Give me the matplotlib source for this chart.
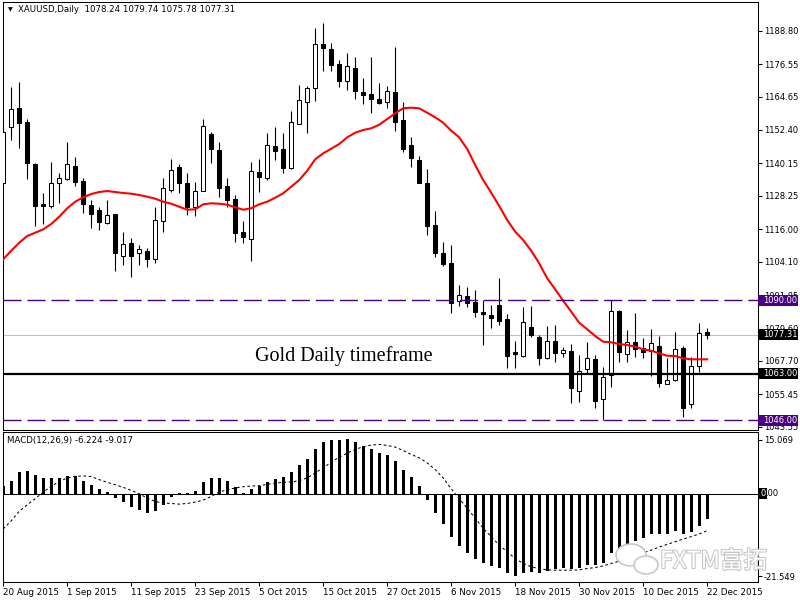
import numpy as np
import pandas as pd
import matplotlib
matplotlib.use('Agg')
import matplotlib.pyplot as plt
import matplotlib.patheffects as pe
from matplotlib.patches import Rectangle, Ellipse
from matplotlib.transforms import blended_transform_factory

plt.rcParams['font.family'] = ['DejaVu Sans', 'Noto Sans CJK SC']

# XAUUSD daily candles, 20 Aug 2015 .. 22 Dec 2015
opens = [
    1132.84, 1153.38, 1160.35, 1155.21, 1139.92, 1125.14, 1124.63, 1133.06, 1134.31, 1139.19,
    1133.69, 1124.89, 1123.05, 1118.18, 1121.48, 1106.30, 1110.84, 1107.17, 1108.02, 1104.97,
    1119.02, 1130.28, 1138.71, 1132.95, 1124.04, 1130.13, 1150.81, 1145.05, 1131.85, 1126.98,
    1115.10, 1112.53, 1136.88, 1134.68, 1146.52, 1145.42, 1138.34, 1154.70, 1162.77, 1167.90,
    1183.93, 1181.98, 1176.48, 1170.47, 1175.12, 1166.32, 1165.48, 1163.76, 1162.77, 1166.32,
    1156.06, 1146.89, 1141.39, 1132.95, 1117.55, 1107.40, 1103.51, 1089.68, 1091.52, 1089.43,
    1085.76, 1084.55, 1088.22, 1083.19, 1070.98, 1069.63, 1080.15, 1076.59, 1068.67, 1075.02,
    1070.50, 1071.35, 1056.79, 1064.64, 1068.41, 1053.64, 1062.44, 1085.91, 1070.14, 1074.54,
    1072.34, 1071.35, 1073.18, 1059.36, 1060.60, 1072.45, 1051.80, 1065.85, 1078.24]
highs = [
    1153.86, 1168.05, 1170.10, 1156.42, 1140.40, 1129.40, 1140.54, 1136.51, 1147.88, 1142.60,
    1134.68, 1126.72, 1124.26, 1126.72, 1121.59, 1114.88, 1112.68, 1110.22, 1109.01, 1124.04,
    1134.68, 1141.75, 1139.92, 1136.51, 1133.43, 1156.42, 1151.77, 1148.10, 1134.90, 1128.55,
    1119.13, 1140.76, 1141.64, 1151.18, 1153.60, 1151.40, 1159.36, 1168.89, 1168.52, 1189.68,
    1191.52, 1184.18, 1178.06, 1180.51, 1179.05, 1171.35, 1179.05, 1169.51, 1168.52, 1182.71,
    1162.55, 1149.71, 1142.85, 1137.98, 1122.69, 1111.21, 1110.22, 1095.55, 1094.71, 1093.72,
    1090.05, 1088.22, 1098.23, 1084.92, 1075.13, 1087.37, 1087.85, 1077.22, 1080.63, 1080.88,
    1072.71, 1073.92, 1069.88, 1074.54, 1069.88, 1065.59, 1089.90, 1086.38, 1079.05, 1085.39,
    1076.23, 1079.42, 1076.96, 1068.89, 1078.21, 1073.18, 1069.26, 1081.51, 1079.74]
lows = [
    1131.85, 1148.72, 1145.68, 1134.31, 1117.30, 1117.92, 1123.68, 1125.51, 1134.05, 1131.85,
    1121.84, 1116.56, 1115.72, 1117.92, 1100.80, 1102.88, 1098.59, 1102.88, 1102.26, 1103.73,
    1115.10, 1129.76, 1129.40, 1121.22, 1120.85, 1130.02, 1140.40, 1127.71, 1124.26, 1111.43,
    1110.84, 1104.46, 1129.76, 1134.20, 1141.39, 1136.51, 1138.10, 1154.48, 1151.40, 1163.13,
    1174.13, 1174.13, 1168.27, 1167.06, 1163.65, 1161.92, 1158.73, 1161.81, 1160.57, 1152.13,
    1144.43, 1138.93, 1132.84, 1113.89, 1105.93, 1102.52, 1085.17, 1087.85, 1087.37, 1083.93,
    1073.55, 1079.67, 1080.88, 1065.22, 1065.22, 1069.26, 1076.59, 1066.21, 1068.53, 1067.43,
    1069.26, 1052.39, 1052.76, 1063.39, 1050.56, 1046.05, 1058.04, 1067.43, 1067.43, 1069.04,
    1068.67, 1062.29, 1058.26, 1059.25, 1060.46, 1047.26, 1050.56, 1063.76, 1075.78]
closes = [
    1151.77, 1159.98, 1154.85, 1140.40, 1124.63, 1124.63, 1132.84, 1134.68, 1139.81, 1133.43,
    1125.14, 1121.48, 1118.76, 1121.22, 1107.40, 1110.48, 1106.30, 1108.64, 1104.97, 1119.39,
    1131.01, 1137.61, 1133.06, 1124.26, 1129.91, 1153.75, 1145.42, 1131.23, 1126.72, 1114.51,
    1113.26, 1137.24, 1135.26, 1146.78, 1144.80, 1138.56, 1155.21, 1163.39, 1167.68, 1183.82,
    1182.57, 1176.22, 1170.47, 1175.86, 1166.80, 1165.33, 1163.87, 1162.40, 1166.69, 1155.43,
    1145.42, 1142.01, 1133.06, 1117.19, 1107.40, 1103.25, 1089.06, 1091.77, 1089.06, 1085.76,
    1084.81, 1083.34, 1082.46, 1069.63, 1070.14, 1081.87, 1077.33, 1068.67, 1075.02, 1070.72,
    1071.71, 1057.89, 1064.12, 1068.89, 1053.12, 1061.70, 1085.91, 1071.09, 1074.54, 1071.97,
    1071.09, 1074.17, 1059.72, 1060.60, 1072.08, 1050.56, 1065.85, 1078.10, 1077.31]

# red moving average as drawn on the chart
ma_line = [
    1104.97, 1108.13, 1111.06, 1113.52, 1114.73, 1115.98, 1117.92, 1120.60, 1123.68, 1126.10,
    1127.71, 1128.92, 1129.65, 1130.02, 1129.65, 1129.29, 1129.03, 1128.55, 1127.93, 1127.20,
    1126.10, 1125.36, 1124.26, 1123.16, 1123.31, 1125.14, 1125.51, 1125.36, 1125.00, 1124.04,
    1123.16, 1123.68, 1125.14, 1126.10, 1127.56, 1129.18, 1131.60, 1134.05, 1137.46, 1141.64,
    1143.84, 1145.53, 1147.25, 1149.71, 1151.40, 1152.39, 1153.01, 1154.33, 1156.42, 1158.51,
    1160.35, 1160.57, 1160.35, 1158.73, 1157.05, 1155.07, 1152.13, 1149.71, 1145.42, 1139.55,
    1134.05, 1129.40, 1124.52, 1119.39, 1115.10, 1112.05, 1108.13, 1103.51, 1098.00, 1093.97,
    1089.79, 1085.76, 1081.73, 1079.31, 1076.85, 1074.76, 1074.54, 1073.92, 1073.55, 1072.93,
    1071.97, 1071.46, 1070.50, 1069.62, 1069.51, 1068.67, 1068.30, 1068.30, 1068.30]

# MACD(12,26,9): main (bars) and signal (dotted)
macd_main = [
    2.00, 3.19, 5.41, 5.65, 4.67, 3.93, 3.93, 3.93, 4.42, 4.26,
    3.19, 2.21, 1.23, 0.49, -1.06, -2.05, -3.36, -3.93, -4.59, -4.18,
    -2.70, -0.90, 0.25, 0.25, 0.74, 2.95, 3.93, 3.77, 3.19, 1.72,
    0.25, 1.23, 1.80, 2.95, 3.69, 4.01, 5.24, 6.96, 8.44, 10.97,
    12.53, 13.10, 13.10, 13.27, 12.61, 11.71, 10.81, 9.83, 9.34, 7.94,
    5.90, 4.18, 1.97, -1.47, -4.59, -7.37, -10.48, -12.69, -14.41, -15.97,
    -16.87, -17.61, -18.10, -19.33, -20.07, -19.33, -19.08, -19.33, -18.84, -18.43,
    -18.02, -18.43, -18.10, -17.44, -17.44, -16.79, -14.41, -13.19, -12.20, -11.47,
    -10.73, -9.75, -9.91, -9.91, -9.01, -9.91, -9.25, -7.78, -6.224]
macd_signal = [
    -8.60, -6.60, -4.30, -2.70, -1.20, 0.40, 1.80, 3.00, 3.85, 4.26,
    4.34, 4.18, 3.44, 2.78, 2.20, 1.56, 0.82, 0.00, -1.06, -1.88,
    -2.29, -2.37, -2.54, -2.37, -2.05, -1.56, -0.66, 0.41, 0.98, 1.39,
    1.72, 1.88, 1.97, 2.29, 2.62, 2.78, 2.87, 3.19, 3.85, 5.08,
    6.31, 7.70, 8.93, 9.91, 10.81, 11.47, 11.88, 12.04, 11.79, 11.38,
    10.56, 9.58, 8.76, 7.53, 5.90, 3.85, 1.23, -1.23, -3.52, -5.98,
    -8.44, -10.48, -12.53, -14.17, -15.81, -17.03, -17.85, -18.26, -18.59, -18.67,
    -18.67, -18.67, -18.59, -18.26, -18.02, -17.61, -17.03, -16.46, -15.81, -15.15,
    -14.41, -13.76, -13.02, -12.37, -11.71, -11.06, -10.48, -9.83, -9.017]

price_ticks = [1188.80, 1176.55, 1164.65, 1152.40, 1140.15, 1128.25, 1116.00,
               1104.10, 1091.85, 1079.60, 1067.70, 1055.45, 1043.55]
date_labels = ['20 Aug 2015', '1 Sep 2015', '11 Sep 2015', '23 Sep 2015', '5 Oct 2015',
               '15 Oct 2015', '27 Oct 2015', '6 Nov 2015', '18 Nov 2015', '30 Nov 2015',
               '10 Dec 2015', '22 Dec 2015']
resistance = 1090.00
support = 1046.00
pivot = 1063.00
last_price = 1077.31

dates = pd.bdate_range('2015-08-20', '2015-12-22')
x = np.arange(len(closes))
tick_idx = dates.get_indexer(pd.to_datetime(date_labels, format='%d %b %Y'))

W, H = 800, 600
PURPLE = '#4B0082'


def px_rect(l, t, r, b):
    return [l / W, 1 - b / H, (r - l) / W, (b - t) / H]


fig = plt.figure(figsize=(8, 6), dpi=100, facecolor='white')
ax = fig.add_axes(px_rect(2.5, 2, 757.5, 430))
ax2 = fig.add_axes(px_rect(2.5, 432, 757.5, 582))

xlim = (-0.09, 94.29)

# ---- price panel ----
ax.vlines(x, lows, highs, color='black', lw=0.8, zorder=2)
for i in x:
    o, c = opens[i], closes[i]
    face = 'white' if c >= o else 'black'
    ax.add_patch(Rectangle((i - 0.25, min(o, c)), 0.5, max(abs(c - o), 0.3),
                           facecolor=face, edgecolor='black', lw=0.75, zorder=3))
ax.plot(x, ma_line, color='#ff0000', lw=1.5, zorder=4)

ax.axhline(last_price, color='#c0c0c0', lw=0.75, zorder=1)
ax.axhline(pivot, color='black', lw=1.6, zorder=5)
for lvl in (resistance, support):
    ax.axhline(lvl, color=PURPLE, lw=1.0, ls=(0, (13, 4.3)), zorder=5)

ax.set_xlim(*xlim)
ax.set_ylim(1042.38, 1199.33)
ax.set_xticks([])
ax.yaxis.tick_right()
ax.set_yticks(price_ticks, [f'{v:.2f}' for v in price_ticks])
ax.tick_params(axis='y', direction='out', length=3, width=0.75, pad=1.5,
               labelsize=6, colors='black')
for s in ax.spines.values():
    s.set_linewidth(0.75)

trans = blended_transform_factory(ax.transAxes, ax.transData)
for lvl, col in ((resistance, PURPLE), (support, PURPLE), (pivot, 'black'), (last_price, 'black')):
    ax.add_patch(Rectangle((1.0013, lvl - 2.0), 0.0525, 4.0, transform=trans,
                           facecolor=col, edgecolor='none', clip_on=False, zorder=6))
    ax.text(1.0075, lvl, f'{lvl:.2f}', transform=trans, color='white', fontsize=6,
            ha='left', va='center', zorder=7, clip_on=False)

ax.text(0.3345, 0.161, 'Gold Daily timeframe', transform=ax.transAxes,
        family='Liberation Serif', fontsize=14.5, va='baseline', ha='left')

# ---- MACD panel ----
ax2.bar(x, macd_main, width=0.375, color='black', zorder=2)
ax2.plot(x, macd_signal, color='black', lw=0.75, ls=(0, (2.5, 2.5)), zorder=3)
ax2.axhline(0, color='black', lw=0.75, zorder=1)
ax2.set_xlim(*xlim)
ax2.set_ylim(-21.549, 15.069)
ax2.yaxis.tick_right()
ax2.set_yticks([13.12, -20.09], ['15.069', '-21.549'])
ax2.tick_params(axis='y', direction='out', length=3, width=0.75, pad=1.5, labelsize=6)
ax2.set_xticks(tick_idx, date_labels)
for lab in ax2.get_xticklabels():
    lab.set_horizontalalignment('left')
ax2.tick_params(axis='x', direction='out', length=3, width=0.75, pad=1.5, labelsize=6.3)
for s in ax2.spines.values():
    s.set_linewidth(0.75)

trans2 = blended_transform_factory(ax2.transAxes, ax2.transData)
ax2.add_patch(Rectangle((1.0013, -1.4), 0.0115, 2.8, transform=trans2,
                        facecolor='black', edgecolor='none', clip_on=False, zorder=6))
ax2.text(1.0035, 0, '0', transform=trans2, color='white', fontsize=6,
         ha='left', va='center', zorder=7, clip_on=False)
ax2.text(1.0105, 0, '.00', transform=trans2, color='black', fontsize=6,
         ha='left', va='center', zorder=7, clip_on=False)

# watermark
for (cx, cy, w, h) in ((631, 555, 30, 22), (646, 565, 24, 18)):
    fig.patches.append(Ellipse((cx / W, 1 - cy / H), w / W, h / H, transform=fig.transFigure,
                               facecolor='white', edgecolor='#c8c8c8', lw=1.2, zorder=8))
fig.text(660 / W, 1 - 568 / H, 'FXTM富拓', family=['Noto Sans CJK SC', 'DejaVu Sans'],
         fontsize=17, color='white', va='baseline', zorder=9,
         path_effects=[pe.withStroke(linewidth=1.5, foreground='#c6c6c6')])

# header texts
fig.text(10 / W, 1 - 10 / H, '\u25bc', fontsize=4.5, ha='center', va='center')
fig.text(18 / W, 1 - 10 / H, 'XAUUSD,Daily  1078.24 1079.74 1075.78 1077.31',
         fontsize=6.2, va='center', color='black')
fig.text(7 / W, 1 - 441 / H, 'MACD(12,26,9) -6.224 -9.017', fontsize=6.2,
         va='center', color='black')

fig.savefig('out.png', dpi=100)
